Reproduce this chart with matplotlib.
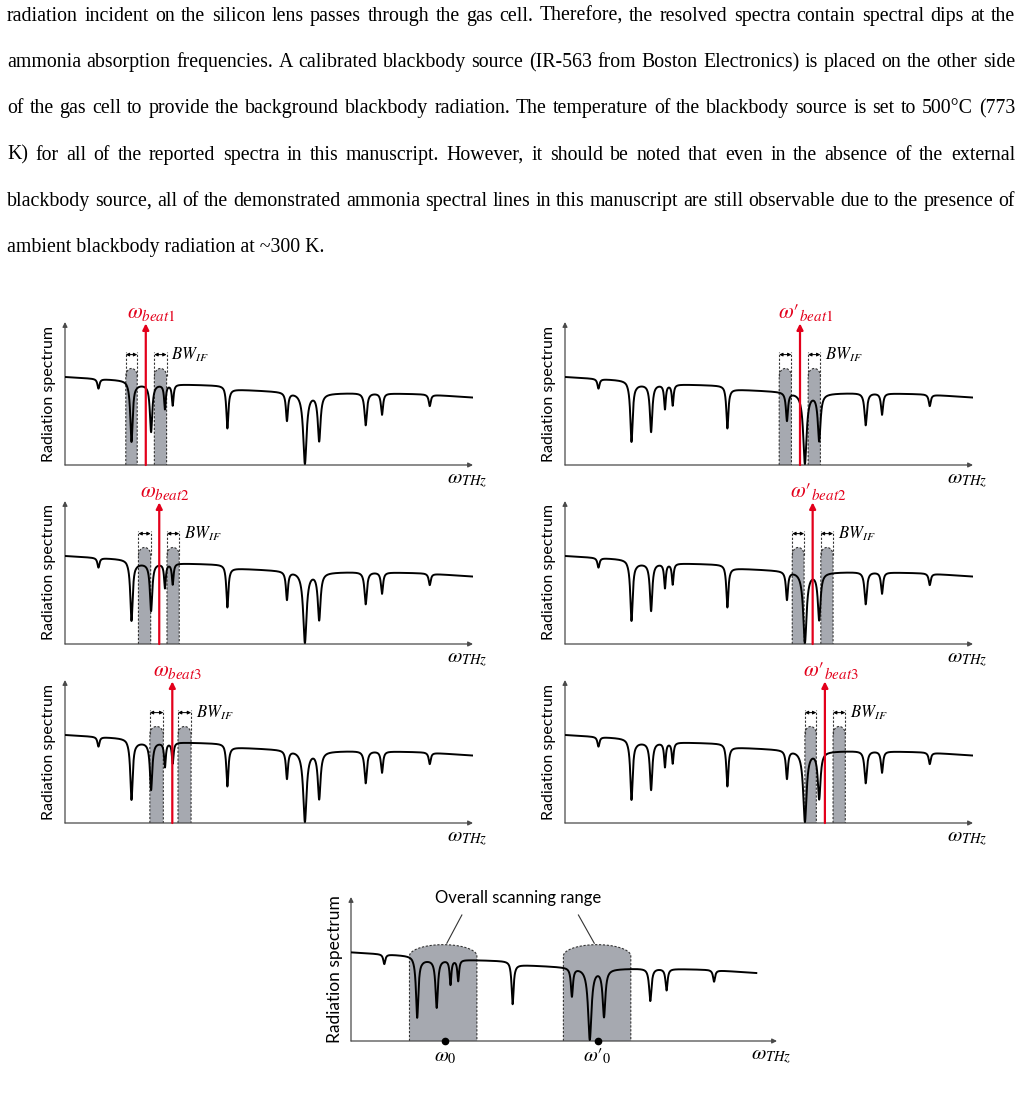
import numpy as np
import matplotlib.pyplot as plt

plt.rcParams['mathtext.fontset'] = 'stix'

W, H = 1022, 1096

para_lines = [
    "radiation incident on the silicon lens passes through the gas cell. Therefore, the resolved spectra contain spectral dips at the",
    "ammonia absorption frequencies. A calibrated blackbody source (IR-563 from Boston Electronics) is placed on the other side",
    "of the gas cell to provide the background blackbody radiation. The temperature of the blackbody source is set to 500°C (773",
    "K) for all of the reported spectra in this manuscript. However, it should be noted that even in the absence of the external",
    "blackbody source, all of the demonstrated ammonia spectral lines in this manuscript are still observable due to the presence of",
    "ambient blackbody radiation at ~300 K.",
]

# normalised spectrum: slowly falling baseline plus absorption dips
base_u = [0.0, 0.15, 0.175, 0.27, 0.39, 0.405, 0.54, 0.62, 0.74, 0.88, 1.0]
base_v = [0.616, 0.592, 0.565, 0.565, 0.555, 0.53, 0.512, 0.50, 0.505, 0.495, 0.472]
dip_u = [0.082, 0.163, 0.211, 0.245, 0.264, 0.398, 0.544, 0.588, 0.623, 0.737, 0.777, 0.894]
dip_min = [0.535, 0.163, 0.233, 0.395, 0.419, 0.256, 0.314, 0.012, 0.174, 0.279, 0.353, 0.412]
dip_w = [0.003, 0.0035, 0.0035, 0.0025, 0.0025, 0.003, 0.003, 0.005, 0.004, 0.0035, 0.003, 0.003]

# beat frequencies and the two IF bands around each one
left_beats = [0.198, 0.231, 0.263]
left_bands = [[(0.149, 0.177), (0.219, 0.249)],
              [(0.180, 0.210), (0.250, 0.280)],
              [(0.208, 0.241), (0.277, 0.309)]]
left_labels = [r'$\omega_{beat1}$', r'$\omega_{beat2}$', r'$\omega_{beat3}$']
right_beats = [0.576, 0.607, 0.637]
right_bands = [[(0.525, 0.555), (0.596, 0.626)],
               [(0.557, 0.586), (0.627, 0.657)],
               [(0.588, 0.616), (0.657, 0.687)]]
right_labels = [r"$\omega{\prime}_{beat1}$", r"$\omega{\prime}_{beat2}$", r"$\omega{\prime}_{beat3}$"]

scan_ranges = [(0.144, 0.31), (0.523, 0.689)]
scan_centers = [0.232, 0.607]
scan_labels = [r'$\omega_0$', r"$\omega{\prime}_0$"]

RED = '#e3001b'
GREY = '#a6a9b0'
AXC = '#4a4a4a'


def spectrum(u):
    v = np.interp(u, base_u, base_v)
    for u0, vmin, w in zip(dip_u, dip_min, dip_w):
        d = np.interp(u0, base_u, base_v) - vmin
        v = v - d / (1 + ((u - u0) / w) ** 2)
    return v


def rounded_band(ax, a, b, v_side, v_top):
    t = np.linspace(np.pi, 0, 40)
    xs = np.concatenate([[a], (a + b) / 2 + (b - a) / 2 * np.cos(t), [b]])
    ys = np.concatenate([[0], v_side + (v_top - v_side) * np.sin(t), [0]])
    ax.fill(xs, ys, color=GREY, lw=0, zorder=1)
    ax.plot(xs, ys, color='#333333', lw=0.8, ls=(0, (2, 1.5)), zorder=2)


def make_panel(left, right, bottom, top, xmax=1.0, yl_size=11.5):
    ax = fig.add_axes([left / W, 1 - bottom / H, (right - left) / W, (bottom - top) / H])
    ax.set_xlim(0, xmax)
    ax.set_ylim(0, 1)
    ax.axis('off')
    ap = dict(arrowstyle='-|>', color=AXC, lw=0.9, mutation_scale=7, shrinkA=0, shrinkB=0)
    ax.annotate('', xy=(xmax, 0), xytext=(0, 0), arrowprops=ap, annotation_clip=False)
    ax.annotate('', xy=(0, 1), xytext=(0, 0), arrowprops=ap, annotation_clip=False)
    u = np.linspace(0, 0.998, 5000)
    ax.plot(u, spectrum(u), color='black', lw=1.4, zorder=3, solid_joinstyle='round')
    pxw, pxh = right - left, bottom - top
    ax.text(-16 / pxw, 0.5, 'Radiation spectrum', rotation=90, ha='center', va='center',
            transform=ax.transAxes, family='Lato', fontsize=yl_size)
    ax.text(1 - 6 / pxw, -15 / pxh, r'$\omega_{THz}$', ha='center', va='center',
            transform=ax.transAxes, fontsize=15)
    return ax


def if_panel(ax, beat, bands, label):
    for a, b in bands:
        rounded_band(ax, a, b, 0.62, 0.675)
        for xe in (a, b):
            ax.plot([xe, xe], [0.62, 0.79], color='#333333', lw=0.8, ls=(0, (2, 1.5)), zorder=2)
        ax.annotate('', xy=(b, 0.772), xytext=(a, 0.772),
                    arrowprops=dict(arrowstyle='<|-|>', color='black', lw=0.7, mutation_scale=5,
                                    shrinkA=0, shrinkB=0))
    ax.text(bands[1][1] + 0.012, 0.772, r'$BW_{IF}$', ha='left', va='center', fontsize=12)
    ax.annotate('', xy=(beat, 0.99), xytext=(beat, 0),
                arrowprops=dict(arrowstyle='-|>', color=RED, lw=1.6, mutation_scale=9,
                                shrinkA=0, shrinkB=0), zorder=5)
    ax.text(beat + 0.014, 1.065, label, color=RED, ha='center', va='center', fontsize=15.5)


fig = plt.figure(figsize=(W / 100, H / 100), dpi=100)

# paragraph, justified
renderer = fig.canvas.get_renderer()
probe = fig.text(0, 0, para_lines[-1], family='Liberation Serif', fontsize=12)
fs = 12 * 316 / probe.get_window_extent(renderer).width
probe.remove()
x0, x1 = 7, 1015
for i, line in enumerate(para_lines):
    y = 1 - (21 + 46.2 * i) / H
    if i == len(para_lines) - 1:
        fig.text(x0 / W, y, line, family='Liberation Serif', fontsize=fs, va='baseline')
        continue
    words = line.split(' ')
    objs = [fig.text(0, y, w, family='Liberation Serif', fontsize=fs, va='baseline') for w in words]
    widths = [o.get_window_extent(renderer).width for o in objs]
    gap = (x1 - x0 - sum(widths)) / (len(words) - 1)
    x = x0
    for o, wd in zip(objs, widths):
        o.set_x(x / W)
        x += wd + gap

rows = [(322, 465), (501, 644), (680, 823)]
for r, (top, bottom) in enumerate(rows):
    axl = make_panel(65, 473, bottom, top)
    if_panel(axl, left_beats[r], left_bands[r], left_labels[r])
    axr = make_panel(565, 973, bottom, top)
    if_panel(axr, right_beats[r], right_bands[r], right_labels[r])

# overall scanning range panel
axb = make_panel(351, 777, 1041, 897, xmax=1.049, yl_size=12.5)
for (a, b), c, lab in zip(scan_ranges, scan_centers, scan_labels):
    rounded_band(axb, a, b, 0.59, 0.669)
    axb.plot([c], [0], 'o', color='black', ms=4.5, zorder=6, clip_on=False)
    axb.text(c, -15 / 144, lab, ha='center', va='center', fontsize=14.5)
axb.plot([0.273, 0.236], [0.875, 0.679], color='#333333', lw=0.8)
axb.plot([0.560, 0.599], [0.875, 0.679], color='#333333', lw=0.8)
axb.text(0.411, 0.993, 'Overall scanning range', ha='center', va='center',
         family='Lato', fontsize=12)

fig.savefig('out.png', dpi=100)
